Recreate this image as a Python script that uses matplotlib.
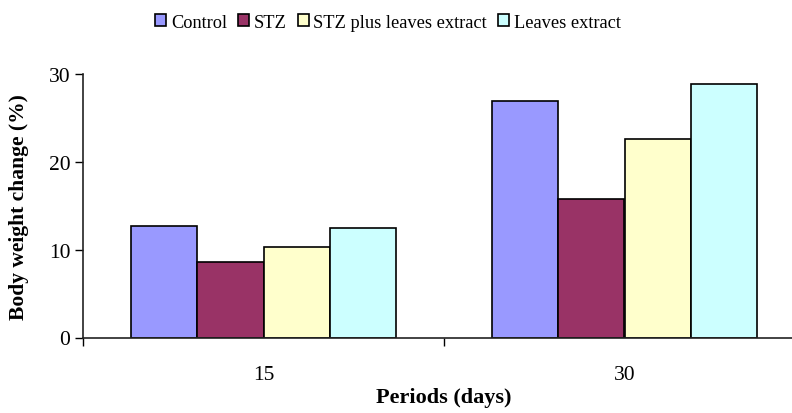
import numpy as np
import matplotlib.pyplot as plt
from matplotlib.patches import Patch

plt.rcParams['font.family'] = ['Liberation Serif', 'DejaVu Serif']

# data
periods = ['15', '30']
series = ['Control', 'STZ', 'STZ plus leaves extract', 'Leaves extract']
control = [12.7, 26.9]
stz = [8.6, 15.8]
stz_leaves = [10.3, 22.6]
leaves = [12.5, 28.9]
colors = ['#9999FF', '#993366', '#FFFFCC', '#CCFFFF']

values = [control, stz, stz_leaves, leaves]

fig = plt.figure(figsize=(7.92, 4.14), dpi=100)
# axes runs a bit past the right edge like the original
ax = fig.add_axes([83 / 792, 75.5 / 414, 722 / 792, 263.5 / 414])

x = np.arange(len(periods))
w = 0.183
for i, (vals, c) in enumerate(zip(values, colors)):
    ax.bar(x + (i - 1.5) * w, vals, width=w, color=c,
           edgecolor='black', linewidth=1.2, label=series[i])

ax.set_xlim(-0.5, 1.5)
ax.set_ylim(0, 30)
ax.set_yticks([0, 10, 20, 30])
ax.set_xticks([-0.5, 0.5, 1.5])
ax.set_xticklabels([])
ax.set_xticks(x, minor=True)
ax.set_xticklabels(periods, minor=True)
ax.tick_params(axis='x', which='minor', length=0, pad=20, labelsize=15.5)
ax.tick_params(axis='x', which='major', length=6, width=1)
ax.tick_params(axis='y', length=6, width=1, labelsize=15.5, pad=3)

for s in ['top', 'right']:
    ax.spines[s].set_visible(False)
for s in ['left', 'bottom']:
    ax.spines[s].set_linewidth(1.2)
    ax.spines[s].set_color('#222222')

ax.set_ylabel('Body weight change (%)', fontsize=15.5, fontweight='bold', labelpad=14)
ax.set_xlabel('Periods (days)', fontsize=16, fontweight='bold', labelpad=2)

handles = [Patch(facecolor=c, edgecolor='black', linewidth=1.2) for c in colors]
fig.legend(handles, series, loc='upper center', bbox_to_anchor=(388 / 792, 1.0),
           ncol=4, frameon=False, fontsize=13.2, handlelength=0.6, handleheight=0.6,
           handletextpad=0.25, columnspacing=0.6, borderpad=0.3)

fig.savefig('out.png', dpi=100)
